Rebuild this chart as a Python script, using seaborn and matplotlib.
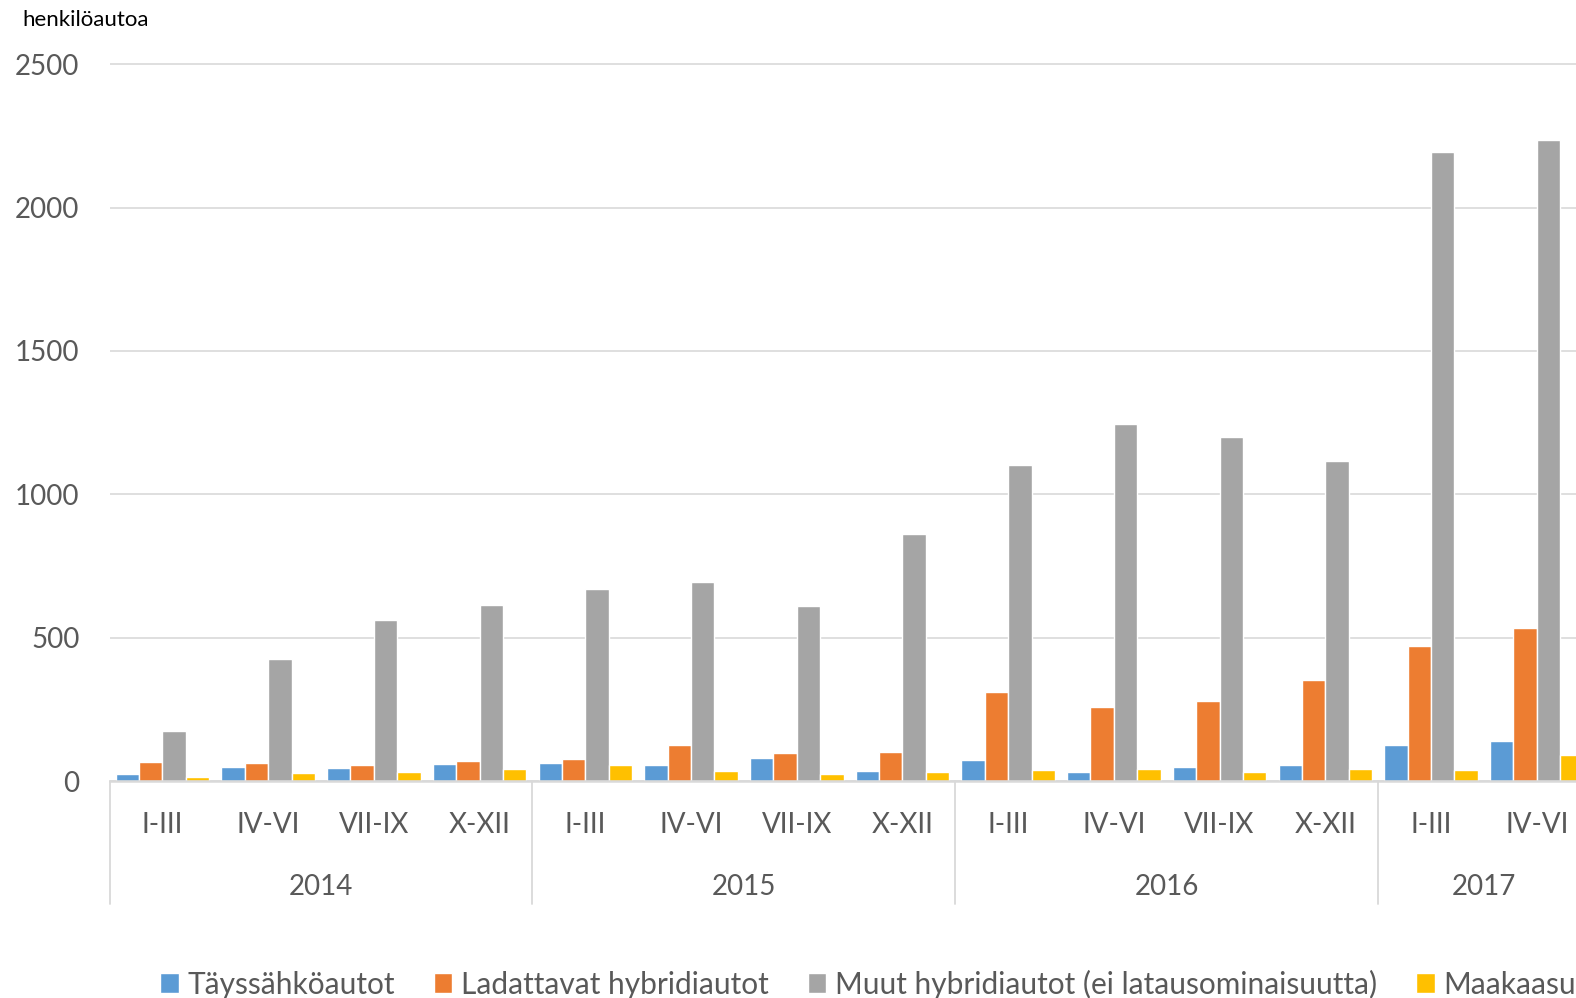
import matplotlib
matplotlib.use("Agg")
import matplotlib.pyplot as plt
import matplotlib.transforms as mtransforms
import seaborn as sns
import pandas as pd

years = ["2014", "2015", "2016", "2017"]
quarters_per_year = [["I-III", "IV-VI", "VII-IX", "X-XII"],
                     ["I-III", "IV-VI", "VII-IX", "X-XII"],
                     ["I-III", "IV-VI", "VII-IX", "X-XII"],
                     ["I-III", "IV-VI"]]
series_names = ["Täyssähköautot", "Ladattavat hybridiautot",
                "Muut hybridiautot (ei latausominaisuutta)", "Maakaasuautot"]
taysisahko = [23, 48, 45, 59, 63, 56, 80, 35, 73, 33, 49, 56, 124, 141]
ladattavat = [65, 63, 56, 70, 78, 126, 99, 101, 310, 257, 279, 351, 472, 535]
muut_hybridit = [175, 425, 563, 613, 669, 694, 612, 860, 1103, 1246, 1201, 1115, 2195, 2236]
maakaasu = [14, 27, 33, 41, 56, 36, 24, 31, 38, 42, 33, 41, 39, 92]
colors = ["#5B9BD5", "#ED7D31", "#A5A5A5", "#FFC000"]
y_label = "henkilöautoa"

periods, qlabels, ylist = [], [], []
for y, qs in zip(years, quarters_per_year):
    for q in qs:
        periods.append(f"{y} {q}")
        qlabels.append(q)
        ylist.append(y)

rows = []
for name, vals in zip(series_names, [taysisahko, ladattavat, muut_hybridit, maakaasu]):
    for p, v in zip(periods, vals):
        rows.append({"period": p, "series": name, "value": v})
df = pd.DataFrame(rows)

sns.set_style("white")
FONT = ["Lato", "DejaVu Sans"]
plt.rcParams["font.family"] = FONT
TXT = "#595959"
GRID = "#D9D9D9"

W, H = 1576, 998
fig = plt.figure(figsize=(W / 100, H / 100), dpi=100)
ymax = 2520
pxu = 716.7 / 2500
ax_h = ymax * pxu
left_px, base_px = 109.6, 781
ax = fig.add_axes([left_px / W, (H - base_px) / H, 1480 / W, ax_h / H])

sns.barplot(data=df, x="period", y="value", hue="series", order=periods,
            hue_order=series_names, palette=colors, width=0.885,
            edgecolor="white", linewidth=1.0, saturation=1, ax=ax)
handles, labels = ax.get_legend_handles_labels()
if ax.get_legend() is not None:
    ax.get_legend().remove()

ax.set_xlim(-0.5, len(periods) - 0.5)
ax.set_ylim(0, ymax)
ax.set_yticks([0, 500, 1000, 1500, 2000, 2500])
ax.yaxis.grid(True, color=GRID, linewidth=1.2)
ax.set_axisbelow(True)
for s in ["top", "right", "left"]:
    ax.spines[s].set_visible(False)
ax.spines["bottom"].set_color(GRID)
ax.spines["bottom"].set_linewidth(1.8)
ax.set_xlabel("")
ax.set_ylabel("")
ax.tick_params(axis="y", length=0, pad=21.6, labelsize=20, labelcolor=TXT)
ax.set_xticks(range(len(periods)))
ax.set_xticklabels(qlabels)
ax.tick_params(axis="x", length=0, pad=32, labelsize=20, labelcolor=TXT)
plt.setp(ax.get_xticklabels(), va="center")

trans = mtransforms.blended_transform_factory(ax.transData, ax.transAxes)
year_y = -106 / ax_h
sep_y = -123 / ax_h
start = 0
for y, qs in zip(years, quarters_per_year):
    n = len(qs)
    ax.plot([start - 0.5, start - 0.5], [0, sep_y], transform=trans, color=GRID,
            linewidth=1.3, clip_on=False)
    ax.text(start + (n - 1) / 2, year_y, y, transform=trans, ha="center", va="center",
            fontsize=20, color=TXT)
    start += n

fig.text(22 / W, 1 - 20 / H, y_label, ha="left", va="center", fontsize=16, color="#000000")

leg = fig.legend(handles, labels, loc="center left", bbox_to_anchor=(160 / W, 1 - 984 / H),
                 ncol=4, frameon=False, fontsize=21.5, handlelength=0.62, handleheight=0.62,
                 handletextpad=0.3, columnspacing=1.3, borderpad=0, borderaxespad=0)
for t in leg.get_texts():
    t.set_color(TXT)

fig.savefig("out.png", dpi=100)
